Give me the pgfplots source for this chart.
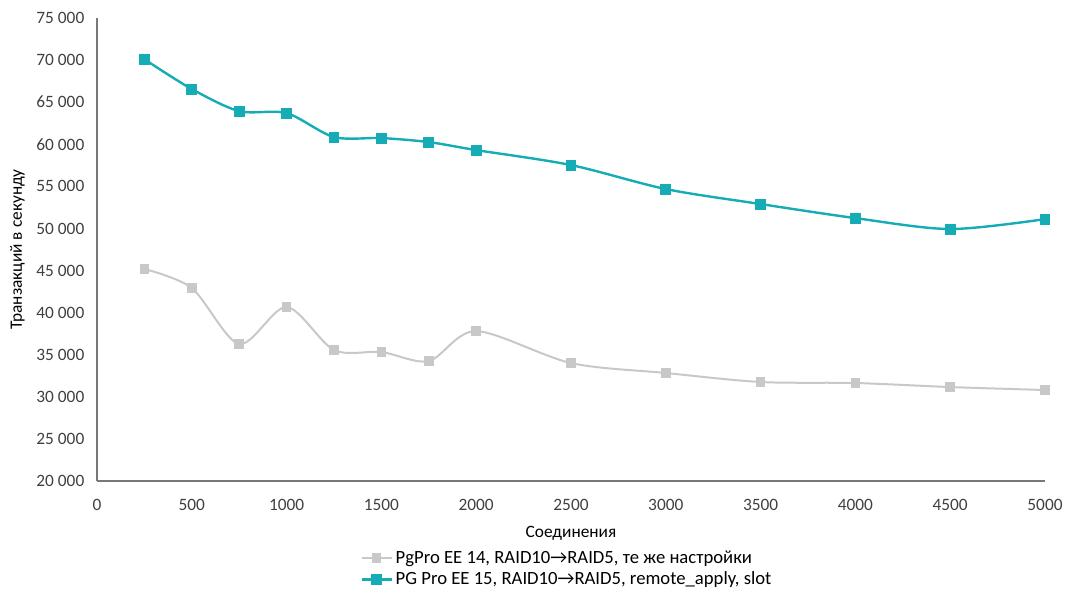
\documentclass[border=0pt]{standalone}
\usepackage{fontspec}
\setmainfont{Carlito}
\usepackage{pgfplots}
\pgfplotsset{compat=1.18}

\definecolor{tealc}{RGB}{22,172,182}
\definecolor{grayc}{RGB}{200,200,200}
\definecolor{txt}{RGB}{64,64,64}
\definecolor{axc}{RGB}{120,120,120}

\begin{document}
\begin{tikzpicture}
\path (-72.75pt,-81.75pt) rectangle (727.5pt,360.75pt);
\begin{axis}[
    at={(0,0)}, anchor=south west,
    scale only axis,
    width=711pt, height=347.25pt,
    xmin=0, xmax=5000, ymin=20000, ymax=75000,
    xtick distance=500,
    ytick={20000,25000,...,75000},
    axis x line=bottom, axis y line=left,
    axis line style={-, draw=axc, line width=0.8pt},
    major tick length=0pt,
    tick label style={font=\fontsize{13}{15}\selectfont, text=txt},
    /pgf/number format/assume math mode=true,
    xticklabel style={/pgf/number format/1000 sep={}, yshift=-10pt},
    yticklabel style={/pgf/number format/1000 sep={\ }, xshift=-6pt},
    scaled y ticks=false,
    xlabel={Соединения},
    ylabel={Транзакций в секунду},
    label style={font=\fontsize{13}{15}\selectfont, text=black},
    xlabel style={yshift=-5pt},
    ylabel style={yshift=2pt},
    legend style={at={(0.496,0)}, anchor=north, yshift=-48pt, draw=none,
        font=\fontsize{14}{16}\selectfont, row sep=1pt,
        /tikz/every even column/.append style={column sep=2pt}},
    legend cell align=left,
    legend image code/.code={
        \draw[mark repeat=2,mark phase=2,#1,sharp plot]
            plot coordinates {(0cm,0cm) (0.4cm,0cm) (0.8cm,0cm)};},
]
\addplot[grayc, line width=1.5pt, smooth, tension=0.5, mark=square*,
    mark size=2.8pt, mark options={fill=grayc, draw=grayc}] coordinates {
    (250,45180) (500,42920) (750,36270) (1000,40670) (1250,35560)
    (1500,35320) (1750,34250) (2000,37810) (2500,34010) (3000,32830)
    (3500,31760) (4000,31640) (4500,31160) (5000,30810)
};
\addlegendentry{PgPro EE 14, RAID10→RAID5, те же настройки}
\addplot[tealc, line width=1.8pt, smooth, tension=0.5, mark=square*,
    mark size=3.2pt, mark options={fill=tealc, draw=tealc}] coordinates {
    (250,70100) (500,66560) (750,63940) (1000,63700) (1250,60860)
    (1500,60740) (1750,60260) (2000,59310) (2500,57530) (3000,54680)
    (3500,52900) (4000,51230) (4500,49930) (5000,51110)
};
\addlegendentry{PG Pro EE 15, RAID10→RAID5, remote\_apply, slot}
\end{axis}
\end{tikzpicture}
\end{document}
